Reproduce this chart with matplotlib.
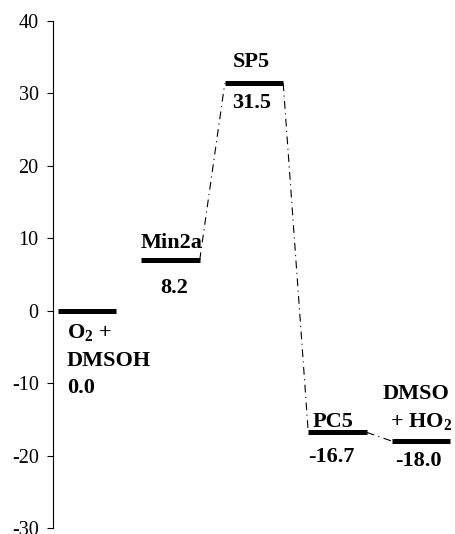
import matplotlib
matplotlib.use("Agg")
import matplotlib.pyplot as plt

plt.rcParams['font.family'] = ['Liberation Serif', 'DejaVu Serif']
plt.rcParams['axes.unicode_minus'] = False

# energy profile (kcal/mol), levels as drawn in the figure
states = ['O$_\\mathregular{2}$ +\nDMSOH', 'Min2a', 'SP5', 'PC5', 'DMSO\n+ HO$_\\mathregular{2}$']
levels = [0.0, 7.0, 31.4, -16.8, -18.0]
energy_labels = ['0.0', '8.2', '31.5', '-16.7', '-18.0']
links = [(1, 2), (2, 3), (3, 4)]
yticks = [-30, -20, -10, 0, 10, 20, 30, 40]

PX = 0.72  # pixels -> points at 100 dpi
half = 0.35  # half width of a level bar

fig = plt.figure(figsize=(4.55, 5.34), dpi=100)
ax = fig.add_axes([53/455, 6/534, 402/455, 507/534])

xs = list(range(len(levels)))
for x, y in zip(xs, levels):
    ax.plot([x - half, x + half], [y, y], color='black', lw=3.6, solid_capstyle='butt')

for a, b in links:
    ax.plot([a + half, b - half], [levels[a], levels[b]], color='black', lw=0.8,
            linestyle=(0, (7, 4, 1, 4)))

# label layout: (dx px, dy px) of name lines and energy, relative to bar centre
name_off = [[(-20, -28), (-20, -55)], [(1.5, 12)], [(-2.5, 16)], [(-4.5, 5)],
            [(-4.5, 42), (0, 14)]]
energy_off = [(-20, -82), (3.5, -33), (-2, -25), (-6.5, -30), (-3, -25)]

for i, (name, e) in enumerate(zip(states, energy_labels)):
    ha = 'left' if i == 0 else 'center'
    for line, (dx, dy) in zip(name.split('\n'), name_off[i]):
        ax.annotate(line, (xs[i], levels[i]), xytext=(dx*PX, dy*PX),
                    textcoords='offset points', ha=ha, va='baseline',
                    fontsize=16, fontweight='bold')
    dx, dy = energy_off[i]
    ax.annotate(e, (xs[i], levels[i]), xytext=(dx*PX, dy*PX),
                textcoords='offset points', ha=ha, va='baseline',
                fontsize=16, fontweight='bold')

ax.set_xlim(-0.407, 4.407)
ax.set_ylim(-30, 40)
ax.set_yticks(yticks)
ax.set_xticks([])
for s in ['top', 'right', 'bottom']:
    ax.spines[s].set_visible(False)
ax.spines['left'].set_linewidth(0.8)
ax.tick_params(axis='y', direction='out', length=4.3, width=0.8, pad=6, labelsize=14.5)
ax.patch.set_alpha(0)

plt.savefig("out.png", dpi=100)
